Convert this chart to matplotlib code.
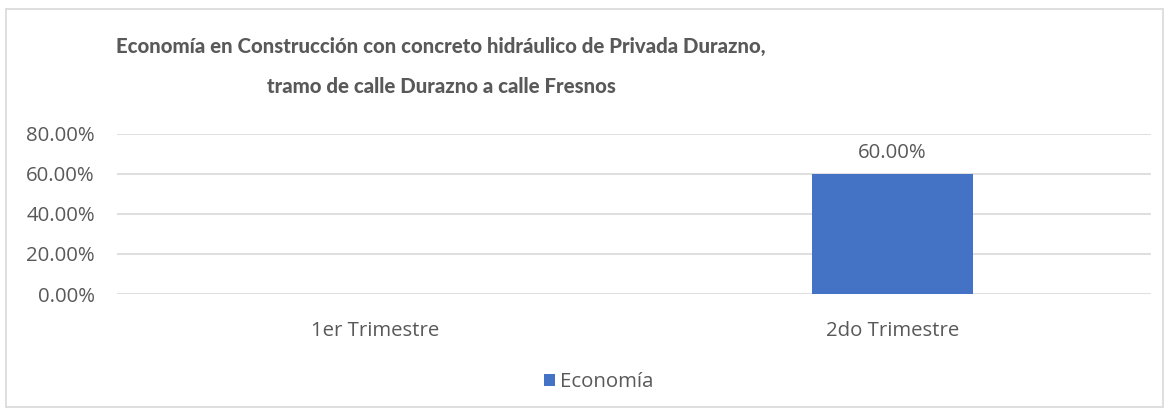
import numpy as np
import matplotlib.pyplot as plt
from matplotlib.patches import Rectangle

categorias = ['1er Trimestre', '2do Trimestre']
economia = [0.0, 0.60]
serie = 'Economía'
titulo = ['Economía en Construcción con concreto hidráulico de Privada Durazno,',
          'tramo de calle Durazno a calle Fresnos']

plt.rcParams['font.family'] = ['Open Sans', 'DejaVu Sans']
gris = '#595959'

fig = plt.figure(figsize=(11.71, 4.12), dpi=100)
ax = fig.add_axes([0.0999, 0.2864, 0.883, 0.3884])

x = np.arange(len(categorias))
barras = ax.bar(x, economia, width=0.313, color='#4472C4', label=serie, zorder=3)

for xi, v in zip(x, economia):
    if v > 0:
        ax.text(xi, v + 0.055, f'{v*100:.2f}%', ha='center', va='bottom', fontsize=14.7, color=gris)

ax.set_xlim(-0.5, 1.5)
ax.set_ylim(0, 0.8)
ax.set_yticks(np.arange(0, 0.81, 0.2))
ax.set_yticklabels([f'{t*100:.2f}%' for t in np.arange(0, 0.81, 0.2)])
ax.set_xticks(x)
ax.set_xticklabels(categorias)
ax.tick_params(axis='both', length=0, labelsize=14.7, labelcolor=gris)
ax.tick_params(axis='y', pad=16)
ax.tick_params(axis='x', pad=19.5)
ax.grid(axis='y', color='#d9d9d9', linewidth=1.2, zorder=0)
for s in ax.spines.values():
    s.set_visible(False)

for linea, yy in zip(titulo, [0.888, 0.789]):
    fig.text(0.3766, yy, linea, ha='center', va='center', fontsize=14.7,
             fontweight=900, color=gris, family=['Lato', 'DejaVu Sans'])

fig.legend(loc='center', bbox_to_anchor=(0.511, 0.072), frameon=False,
           fontsize=14.7, labelcolor=gris, handlelength=0.55, handleheight=0.55,
           handletextpad=0.25)

fig.add_artist(Rectangle((0.005, 0.012), 0.988, 0.966, transform=fig.transFigure,
                         fill=False, edgecolor='#d9d9d9', linewidth=1.2))

fig.savefig('out.png', dpi=100, facecolor='white')
